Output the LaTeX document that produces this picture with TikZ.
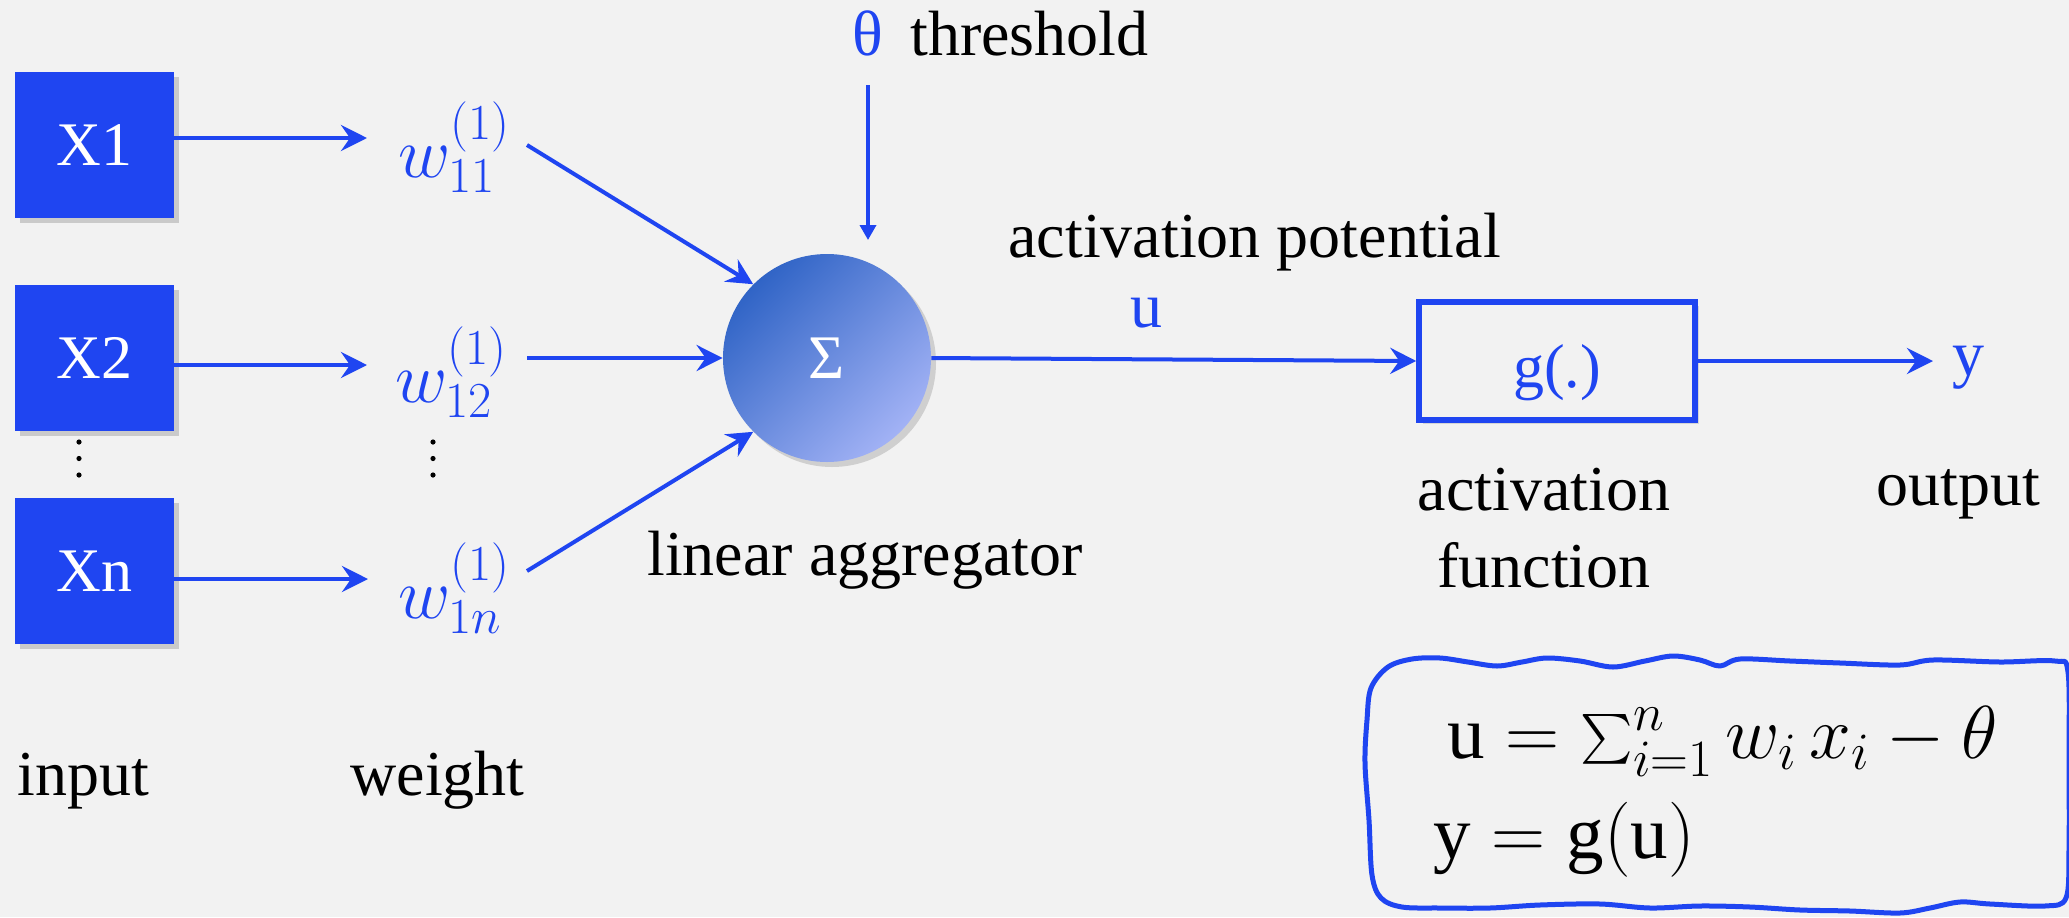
\documentclass[tikz,border=0pt]{standalone}
\usepackage{fix-cm}
\usepackage{exscale}
\usepackage{fontspec}
\setmainfont{Liberation Serif}
\usetikzlibrary{arrows.meta,shadows,calc}
\definecolor{bg}{RGB}{242,242,242}
\definecolor{nblue}{RGB}{31,69,241}
\definecolor{sumdark}{RGB}{48,100,198}
\definecolor{sumlight}{RGB}{162,178,245}
\tikzset{
  inbox/.style={fill=nblue, minimum width=79.5pt, minimum height=73pt, inner sep=0pt,
    text=white, font=\fontsize{31}{36}\selectfont,
    drop shadow={shadow xshift=2.5pt, shadow yshift=-2.5pt, opacity=0.35}},
  arr/.style={draw=nblue, line width=2pt, -{Stealth[length=13pt,width=13pt,inset=4.5pt]}},
  tharr/.style={draw=nblue, line width=1.75pt, -{Triangle[length=7.5pt,width=8pt]}},
  lab/.style={inner sep=0pt, font=\fontsize{32}{38}\selectfont},
  bluelab/.style={lab, text=nblue},
  wlab/.style={inner sep=0pt, anchor=base west, text=nblue, font=\fontsize{36}{42}\selectfont},
  eqlab/.style={inner sep=0pt, anchor=base west, font=\fontsize{37.5}{44}\selectfont},
  gbox/.style={draw=nblue, line width=2.75pt, fill=bg, minimum width=138pt, minimum height=59pt,
    inner sep=0pt, text=nblue, font=\fontsize{31}{36}\selectfont, text height=26pt, text depth=0pt,
    drop shadow={shadow xshift=2pt, shadow yshift=-2pt, opacity=0.25}},
  sumnode/.style={circle, minimum size=104pt, inner sep=0pt, top color=sumdark, bottom color=sumlight,
    shading angle=45, text=white, font=\fontsize{31}{36}\selectfont,
    drop shadow={shadow xshift=2.5pt, shadow yshift=-2.5pt, opacity=0.3}},
  dot/.style={fill=black}
}
\begin{document}
\begin{tikzpicture}[x=0.5pt,y=-0.5pt]
\fill[bg] (0,0) rectangle (2069,917);
\useasboundingbox (0,0) rectangle (2069,917);

% inputs
\node[inbox] (x1) at (94.5,145) {X1};
\node[inbox] (x2) at (94.5,358) {X2};
\node[inbox] (xn) at (94.5,571) {Xn};

% weights
\node[wlab] (w11) at (398,177) {$w^{(1)}_{11}$};
\node[wlab] (w12) at (395,402) {$w^{(1)}_{12}$};
\node[wlab] (w1n) at (398,618) {$w^{(1)}_{1n}$};

% vertical dots
\fill[dot] (79,442) circle (1.3pt);
\fill[dot] (79,458.5) circle (1.3pt);
\fill[dot] (79,475) circle (1.3pt);
\fill[dot] (433,442) circle (1.3pt);
\fill[dot] (433,458.5) circle (1.3pt);
\fill[dot] (433,475) circle (1.3pt);

% arrows input -> weight
\draw[arr, shorten >=15.5pt] ([yshift=3.5pt]x1.east) -- ([yshift=3.5pt]x1.east -| w11.west);
\draw[arr, shorten >=14pt] ([yshift=-3.5pt]x2.east) -- ([yshift=-3.5pt]x2.east -| w12.west);
\draw[arr, shorten >=15pt] ([yshift=-4pt]xn.east) -- ([yshift=-4pt]xn.east -| w1n.west);

% summation
\node[sumnode] (sum) at (827,358) {Σ};
\coordinate (s1) at (527,145);
\coordinate (s2) at (527,358);
\coordinate (s3) at (527,571);
\draw[arr] (s1) -- (sum.135);
\draw[arr] (s2) -- (sum.west);
\draw[arr] (s3) -- (sum.225);

% threshold
\node[bluelab, anchor=base] (theta) at (868,55) {θ};
\node[lab, anchor=base west] (thr) at (910,55) {threshold};
\coordinate (thA) at (868,85);
\coordinate (thB) at (868,240);
\draw[tharr] (thA) -- (thB);

% activation potential
\node[lab, anchor=base west] (actpot) at (1008,257) {activation potential};
\node[bluelab, anchor=base west] (u) at (1130,327) {u};

% activation function
\node[gbox] (g) at (1557,361) {g(.)};
\draw[arr] (sum.east) -- (g.west);
\node[lab, anchor=base] (actf1) at (1544,510) {activation};
\node[lab, anchor=base] (actf2) at (1544,587) {function};

% output
\coordinate (yend) at (1933,361);
\draw[arr] (g.east) -- (yend);
\node[bluelab, anchor=base west] (y) at (1952,375) {y};
\node[lab, anchor=base west] (out) at (1876,505) {output};

% bottom labels
\node[lab, anchor=base west] (lin) at (647,575) {linear aggregator};
\node[lab, anchor=base west] (inp) at (17,795) {input};
\node[lab, anchor=base west] (wt) at (350,795) {weight};

% equations with wavy border
\draw[nblue, line width=2.5pt, line join=round] plot[smooth cycle, tension=0.55] coordinates {
 (1367,720) (1371,688) (1388,667) (1412,659) (1440,658) (1468,662) (1497,666)
 (1522,662) (1547,658) (1580,661) (1613,667) (1645,661) (1673,656) (1700,660)
 (1720,666) (1740,659) (1790,661) (1840,663) (1900,665) (1933,660) (2000,662)
 (2055,661) (2068,672) (2069,760) (2069,850) (2066,898) (2045,906) (1990,904)
 (1960,902) (1930,908) (1900,913) (1850,911) (1800,910) (1750,907) (1700,906)
 (1650,908) (1600,904) (1540,905) (1490,908) (1440,908) (1402,907) (1381,898)
 (1372,875) (1369,820) (1365,763)};
\node[eqlab] (eq1) at (1447,758) {$\mathrm{u} = \textstyle\sum_{i=1}^{n} w_i\, x_i - \theta$};
\node[eqlab] (eq2) at (1433,858) {$\mathrm{y} = \mathrm{g}(\mathrm{u})$};
\end{tikzpicture}
\end{document}
